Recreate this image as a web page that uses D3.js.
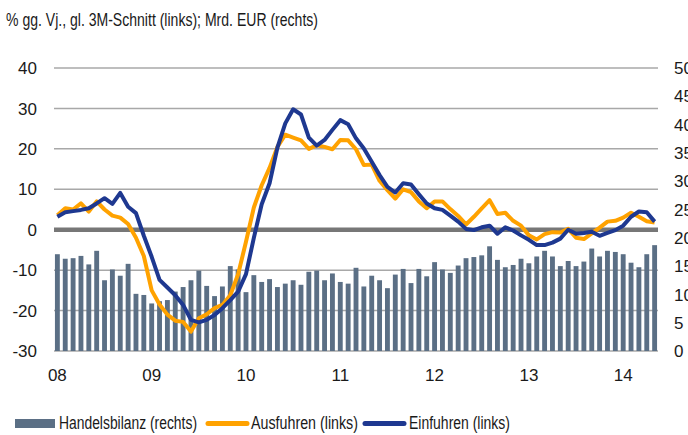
<!DOCTYPE html>
<html>
<head>
<meta charset="utf-8">
<script src="https://cdn.jsdelivr.net/npm/d3@7/dist/d3.min.js"></script>
<style>
  body { margin: 0; background: #fff; }
  svg { display: block; font-family: "Liberation Sans", Arial, sans-serif; }
</style>
</head>
<body>
<svg id="chart" width="688" height="435"></svg>
<script>
// Monatswerte Jan 2008 - Mai 2014
const yearLabels = ["08", "09", "10", "11", "12", "13", "14"];

// Handelsbilanz, Mrd. EUR (rechte Achse)
const handelsbilanz = [
  17.1, 16.3, 16.4, 16.8, 15.3, 17.7, 12.5, 14.4, 13.3, 15.4, 10.1, 9.9,
  8.4, 8.8, 9.0, 10.5, 11.3, 12.5, 14.2, 11.5, 9.7, 11.4, 15.0, 14.4,
  10.4, 13.4, 12.2, 12.7, 11.3, 11.9, 12.5, 11.7, 14.0, 14.2, 12.5, 13.7,
  12.2, 11.9, 14.7, 11.4, 13.3, 12.5, 11.1, 13.5, 14.5, 12.0, 14.5, 13.2,
  15.7, 14.4, 13.8, 15.1, 16.4, 16.6, 16.9, 18.5, 16.1, 14.8, 15.2, 16.3,
  15.5, 16.7, 17.7, 16.7, 15.0, 15.9, 15.0, 15.8, 18.1, 16.7, 17.7, 17.5,
  17.1, 15.6, 14.8, 17.1, 18.7
];

// Ausfuhren, % gg. Vj. (linke Achse)
const ausfuhren = [
  3.6, 5.3, 5.0, 6.5, 4.5, 7.0, 5.0, 3.5, 3.0, 1.4, -2.0, -6.5,
  -15.0, -18.5, -21.0, -22.5, -22.8, -25.2, -21.9, -20.9, -19.4, -18.6, -16.2, -11.0,
  -3.0, 5.5, 11.0, 15.3, 20.5, 23.5, 22.8, 22.1, 20.0, 20.9, 20.5, 19.9,
  22.2, 22.1, 19.9, 16.0, 16.1, 12.1, 9.8, 7.7, 10.0, 9.3, 7.0, 5.3,
  7.0, 7.0, 5.1, 3.4, 1.3, 3.2, 5.3, 7.3, 3.9, 4.2, 2.2, 1.0,
  -1.4, -2.4, -1.1, -0.6, -0.7, 0.2, -2.0, -2.3, -0.9, 0.5, 2.0, 2.2,
  3.0, 4.2, 3.2, 2.1, 1.8
];

// Einfuhren, % gg. Vj. (linke Achse)
const einfuhren = [
  3.2, 4.3, 4.6, 4.9, 5.3, 6.5, 7.8, 6.4, 9.1, 5.7, 4.1, -1.5,
  -6.7, -12.4, -14.3, -16.2, -18.6, -22.3, -22.9, -22.3, -21.1, -19.4, -17.4, -15.3,
  -11.0, -2.0, 6.3, 11.5, 20.3, 26.3, 29.8, 28.5, 22.8, 20.8, 22.2, 24.7,
  27.1, 26.1, 22.6, 20.1, 16.8, 13.5, 10.6, 9.2, 11.5, 11.2, 8.8, 6.5,
  5.3, 4.9, 3.5, 2.0, 0.2, -0.1, 0.6, 1.0, -1.0, 0.6, -0.2, -1.4,
  -2.5, -3.8, -3.8, -3.2, -2.2, 0.0, -1.0, -0.8, -0.5, -1.5, -0.8, -0.1,
  1.0, 3.2, 4.5, 4.3, 2.0
];

const leftTicks = [-30, -20, -10, 0, 10, 20, 30, 40];
const rightTicks = [0, 5, 10, 15, 20, 25, 30, 35, 40, 45, 50];

const svg = d3.select("#chart");
const plotLeft = 54, plotRight = 658, plotTop = 68, plotBottom = 351;

const months = d3.range(handelsbilanz.length);

const x = d3.scaleBand()
  .domain(months)
  .range([plotLeft, plotRight])
  .paddingInner(0.38)
  .paddingOuter(0.12);
const cx = i => x(i) + x.bandwidth() / 2;

const yL = d3.scaleLinear().domain([-30, 40]).range([plotBottom, plotTop]);
const yR = d3.scaleLinear().domain([0, 50]).range([plotBottom, plotTop]);

const textColor = "#1a1a1a";

// Titel
svg.append("text")
  .attr("x", 6).attr("y", 26)
  .attr("font-size", 17.5)
  .attr("fill", textColor)
  .attr("textLength", 312)
  .attr("lengthAdjust", "spacingAndGlyphs")
  .text("% gg. Vj., gl. 3M-Schnitt (links); Mrd. EUR (rechts)");

// Gitterlinien
svg.append("g")
  .selectAll("line")
  .data(leftTicks.filter(d => d !== 0))
  .join("line")
  .attr("x1", plotLeft).attr("x2", plotRight)
  .attr("y1", d => yL(d)).attr("y2", d => yL(d))
  .attr("stroke", "#a8a8a8")
  .attr("stroke-width", 1.5);

// linke Achse
svg.append("g")
  .selectAll("text")
  .data(leftTicks)
  .join("text")
  .attr("x", 37).attr("y", d => yL(d))
  .attr("dy", "0.36em")
  .attr("text-anchor", "end")
  .attr("font-size", 17)
  .attr("fill", textColor)
  .text(d => d);

// rechte Achse (im Original am Bildrand angeschnitten)
svg.append("g")
  .selectAll("text")
  .data(rightTicks)
  .join("text")
  .attr("x", 674).attr("y", d => yR(d))
  .attr("dy", "0.36em")
  .attr("text-anchor", "start")
  .attr("font-size", 17)
  .attr("fill", textColor)
  .text(d => d);

// x-Achse: Jahresbeschriftung im Januar
svg.append("g")
  .selectAll("text")
  .data(months.filter(i => i % 12 === 0))
  .join("text")
  .attr("x", d => cx(d)).attr("y", 381)
  .attr("text-anchor", "middle")
  .attr("font-size", 17)
  .attr("fill", textColor)
  .text(d => yearLabels[d / 12]);

// Säulen Handelsbilanz
svg.append("g")
  .selectAll("rect")
  .data(handelsbilanz)
  .join("rect")
  .attr("x", (d, i) => x(i))
  .attr("width", x.bandwidth())
  .attr("y", d => yR(d))
  .attr("height", d => yR(0) - yR(d))
  .attr("fill", "#5b6f85");

// Nulllinie
svg.append("line")
  .attr("x1", plotLeft).attr("x2", plotRight)
  .attr("y1", yL(0)).attr("y2", yL(0))
  .attr("stroke", "#777777")
  .attr("stroke-width", 4.5);

const line = d3.line()
  .x((d, i) => cx(i))
  .y(d => yL(d));

svg.append("path")
  .datum(ausfuhren)
  .attr("d", line)
  .attr("fill", "none")
  .attr("stroke", "#ffa200")
  .attr("stroke-width", 4)
  .attr("stroke-linejoin", "round");

svg.append("path")
  .datum(einfuhren)
  .attr("d", line)
  .attr("fill", "none")
  .attr("stroke", "#1e3890")
  .attr("stroke-width", 4)
  .attr("stroke-linejoin", "round");

// Legende
const legend = svg.append("g");
legend.append("rect")
  .attr("x", 15).attr("y", 419).attr("width", 40).attr("height", 9)
  .attr("fill", "#5b6f85");
legend.append("text")
  .attr("x", 59).attr("y", 429)
  .attr("font-size", 17.5).attr("fill", textColor)
  .attr("textLength", 138).attr("lengthAdjust", "spacingAndGlyphs")
  .text("Handelsbilanz (rechts)");

legend.append("line")
  .attr("x1", 208).attr("x2", 247).attr("y1", 423.5).attr("y2", 423.5)
  .attr("stroke", "#ffa200").attr("stroke-width", 5).attr("stroke-linecap", "round");
legend.append("text")
  .attr("x", 251).attr("y", 429)
  .attr("font-size", 17.5).attr("fill", textColor)
  .attr("textLength", 107).attr("lengthAdjust", "spacingAndGlyphs")
  .text("Ausfuhren (links)");

legend.append("line")
  .attr("x1", 365).attr("x2", 404).attr("y1", 423.5).attr("y2", 423.5)
  .attr("stroke", "#1e3890").attr("stroke-width", 5).attr("stroke-linecap", "round");
legend.append("text")
  .attr("x", 409).attr("y", 429)
  .attr("font-size", 17.5).attr("fill", textColor)
  .attr("textLength", 101).attr("lengthAdjust", "spacingAndGlyphs")
  .text("Einfuhren (links)");
</script>
</body>
</html>
